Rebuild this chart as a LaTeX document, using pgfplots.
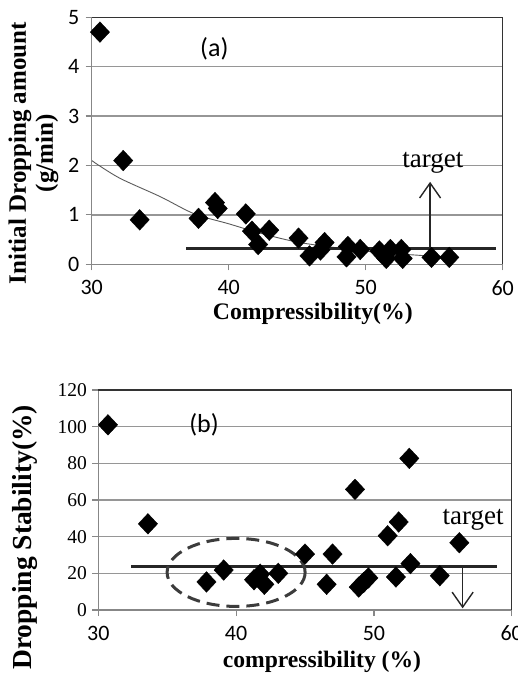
\documentclass[border=0pt]{standalone}
\usepackage{fontspec}
\setmainfont{Liberation Serif}
\newfontfamily\carlito{Carlito}
\usepackage{pgfplots}
\pgfplotsset{compat=1.18}
\usetikzlibrary{arrows.meta}

\definecolor{gridgray}{RGB}{150,150,150}
\definecolor{axgray}{RGB}{135,135,135}
\definecolor{trend}{RGB}{90,90,90}
\definecolor{ellgray}{RGB}{60,60,60}

\pgfplotsset{
  mystyle/.style={
    scale only axis,
    axis line style={draw=none},
    tick align=outside,
    xtick pos=bottom, ytick pos=left,
    major tick length=6pt,
    tick style={axgray, line width=1.2pt},
    ymajorgrids,
    grid style={gridgray, line width=1.3pt},
    /pgf/number format/assume math mode=true,
    clip=false,
    anchor=south west,
  },
  dmark/.style={only marks, mark=diamond*, mark size=10.3pt,
    mark options={xscale=1.25, fill=black, draw=black}},
}

\begin{document}
\begin{tikzpicture}
% ---------------- (a) ----------------
\begin{axis}[mystyle,
  at={(91.7pt,410.7pt)},
  width=411pt, height=247pt,
  xmin=30, xmax=60, ymin=0, ymax=5,
  xtick={30,40,50,60}, ytick={0,1,2,3,4,5},
  xticklabel style={font=\carlito\fontsize{22}{22}\selectfont, yshift=-6.5pt},
  yticklabel style={font=\carlito\fontsize{22}{22}\selectfont, xshift=-3pt},
  xlabel={\bfseries Compressibility(\%)},
  xlabel style={font=\fontsize{23.7}{26}\selectfont, at={(axis description cs:0.538,-0.2)}, anchor=center},
  ylabel={\bfseries Initial Dropping amount\\\bfseries (g/min)},
  ylabel style={font=\fontsize{25}{27}\selectfont, align=center, at={(axis description cs:-0.142,0.45)}, anchor=center},
]
\addplot[dmark] coordinates {
 (30.6,4.7) (32.3,2.1) (33.5,0.9) (37.8,0.93) (39.0,1.25) (39.2,1.13)
 (41.25,1.02) (41.7,0.67) (42.15,0.4) (42.96,0.69) (45.1,0.53) (45.9,0.17)
 (46.7,0.29) (47.0,0.44) (48.7,0.36) (48.6,0.15) (49.6,0.3) (51.0,0.27)
 (51.8,0.3) (51.5,0.12) (52.6,0.3) (52.7,0.12) (54.8,0.14) (56.1,0.14)
};
\addplot[trend, line width=0.9pt, smooth] coordinates {
 (30,2.1) (32,1.75) (35,1.37) (37.5,1.02) (40,0.82) (42.3,0.63) (45,0.45)
 (48,0.33) (51,0.24) (54,0.18) (56.2,0.14)
};
\addplot[black!85, line width=3pt] coordinates {(36.9,0.32) (59.5,0.32)};
\addplot[black!85, line width=1.4pt, -{Straight Barb[length=15pt,width=21pt]}] coordinates {(54.7,0.32) (54.7,1.67)};
\node[font=\fontsize{27}{27}\selectfont] at (axis cs:54.9,2.05) {target};
\node[font=\carlito\fontsize{26}{26}\selectfont] at (axis cs:38.95,4.37) {(a)};
\draw[axgray, line width=1.3pt] (rel axis cs:0,1) -- (rel axis cs:0,0) -- (rel axis cs:1,0);
\draw[black!80, line width=1.3pt] (rel axis cs:0,1) -- (rel axis cs:1,1) -- (rel axis cs:1,0);
\end{axis}
% ---------------- (b) ----------------
\begin{axis}[mystyle,
  at={(98.3pt,65pt)},
  width=413.4pt, height=220pt,
  xmin=30, xmax=60, ymin=0, ymax=120,
  xtick={30,40,50,60}, ytick={0,20,40,60,80,100,120},
  xticklabel style={font=\carlito\fontsize{22}{22}\selectfont, yshift=-6.5pt},
  yticklabel style={font=\fontsize{19.5}{19.5}\selectfont, xshift=-2pt},
  xlabel={\bfseries compressibility (\%)},
  xlabel style={font=\fontsize{23.6}{26}\selectfont, at={(axis description cs:0.541,-0.237)}, anchor=center},
  ylabel={\bfseries Dropping Stability(\%)},
  ylabel style={font=\fontsize{27.5}{28}\selectfont, at={(axis description cs:-0.177,0.33)}, anchor=center},
]
\addplot[dmark] coordinates {
 (30.7,101) (33.6,47) (37.85,15.3) (39.1,21.8) (41.3,16.5) (41.75,19.5)
 (42.05,14) (43.06,20) (45.0,30.5) (47.0,30.5) (46.57,14) (48.63,65.8)
 (48.9,12.5) (49.25,15) (49.6,17.5) (51.0,40.5) (51.8,48) (51.6,18)
 (52.57,82.7) (52.65,25.3) (54.78,18.7) (56.2,36.7)
};
\addplot[black!85, line width=3pt] coordinates {(32.4,23.6) (58.9,23.6)};
\addplot[black!85, line width=1.4pt, -{Straight Barb[length=15pt,width=21pt]}] coordinates {(56.44,23.6) (56.44,0.9)};
\node[font=\fontsize{27}{27}\selectfont] at (axis cs:57.2,49.1) {target};
\node[font=\carlito\fontsize{26}{26}\selectfont] at (axis cs:37.67,100.9) {(b)};
\draw[ellgray, line width=3pt, dash pattern=on 13pt off 7pt] (axis cs:40,20.5) ellipse [x radius=69pt, y radius=34pt];
\draw[axgray, line width=1.3pt] (rel axis cs:0,1) -- (rel axis cs:0,0) -- (rel axis cs:1,0);
\draw[black!80, line width=1.3pt] (rel axis cs:0,1) -- (rel axis cs:1,1) -- (rel axis cs:1,0);
\end{axis}
\pgfresetboundingbox
\useasboundingbox (0,0) rectangle (517pt,675pt);
\end{tikzpicture}
\end{document}
